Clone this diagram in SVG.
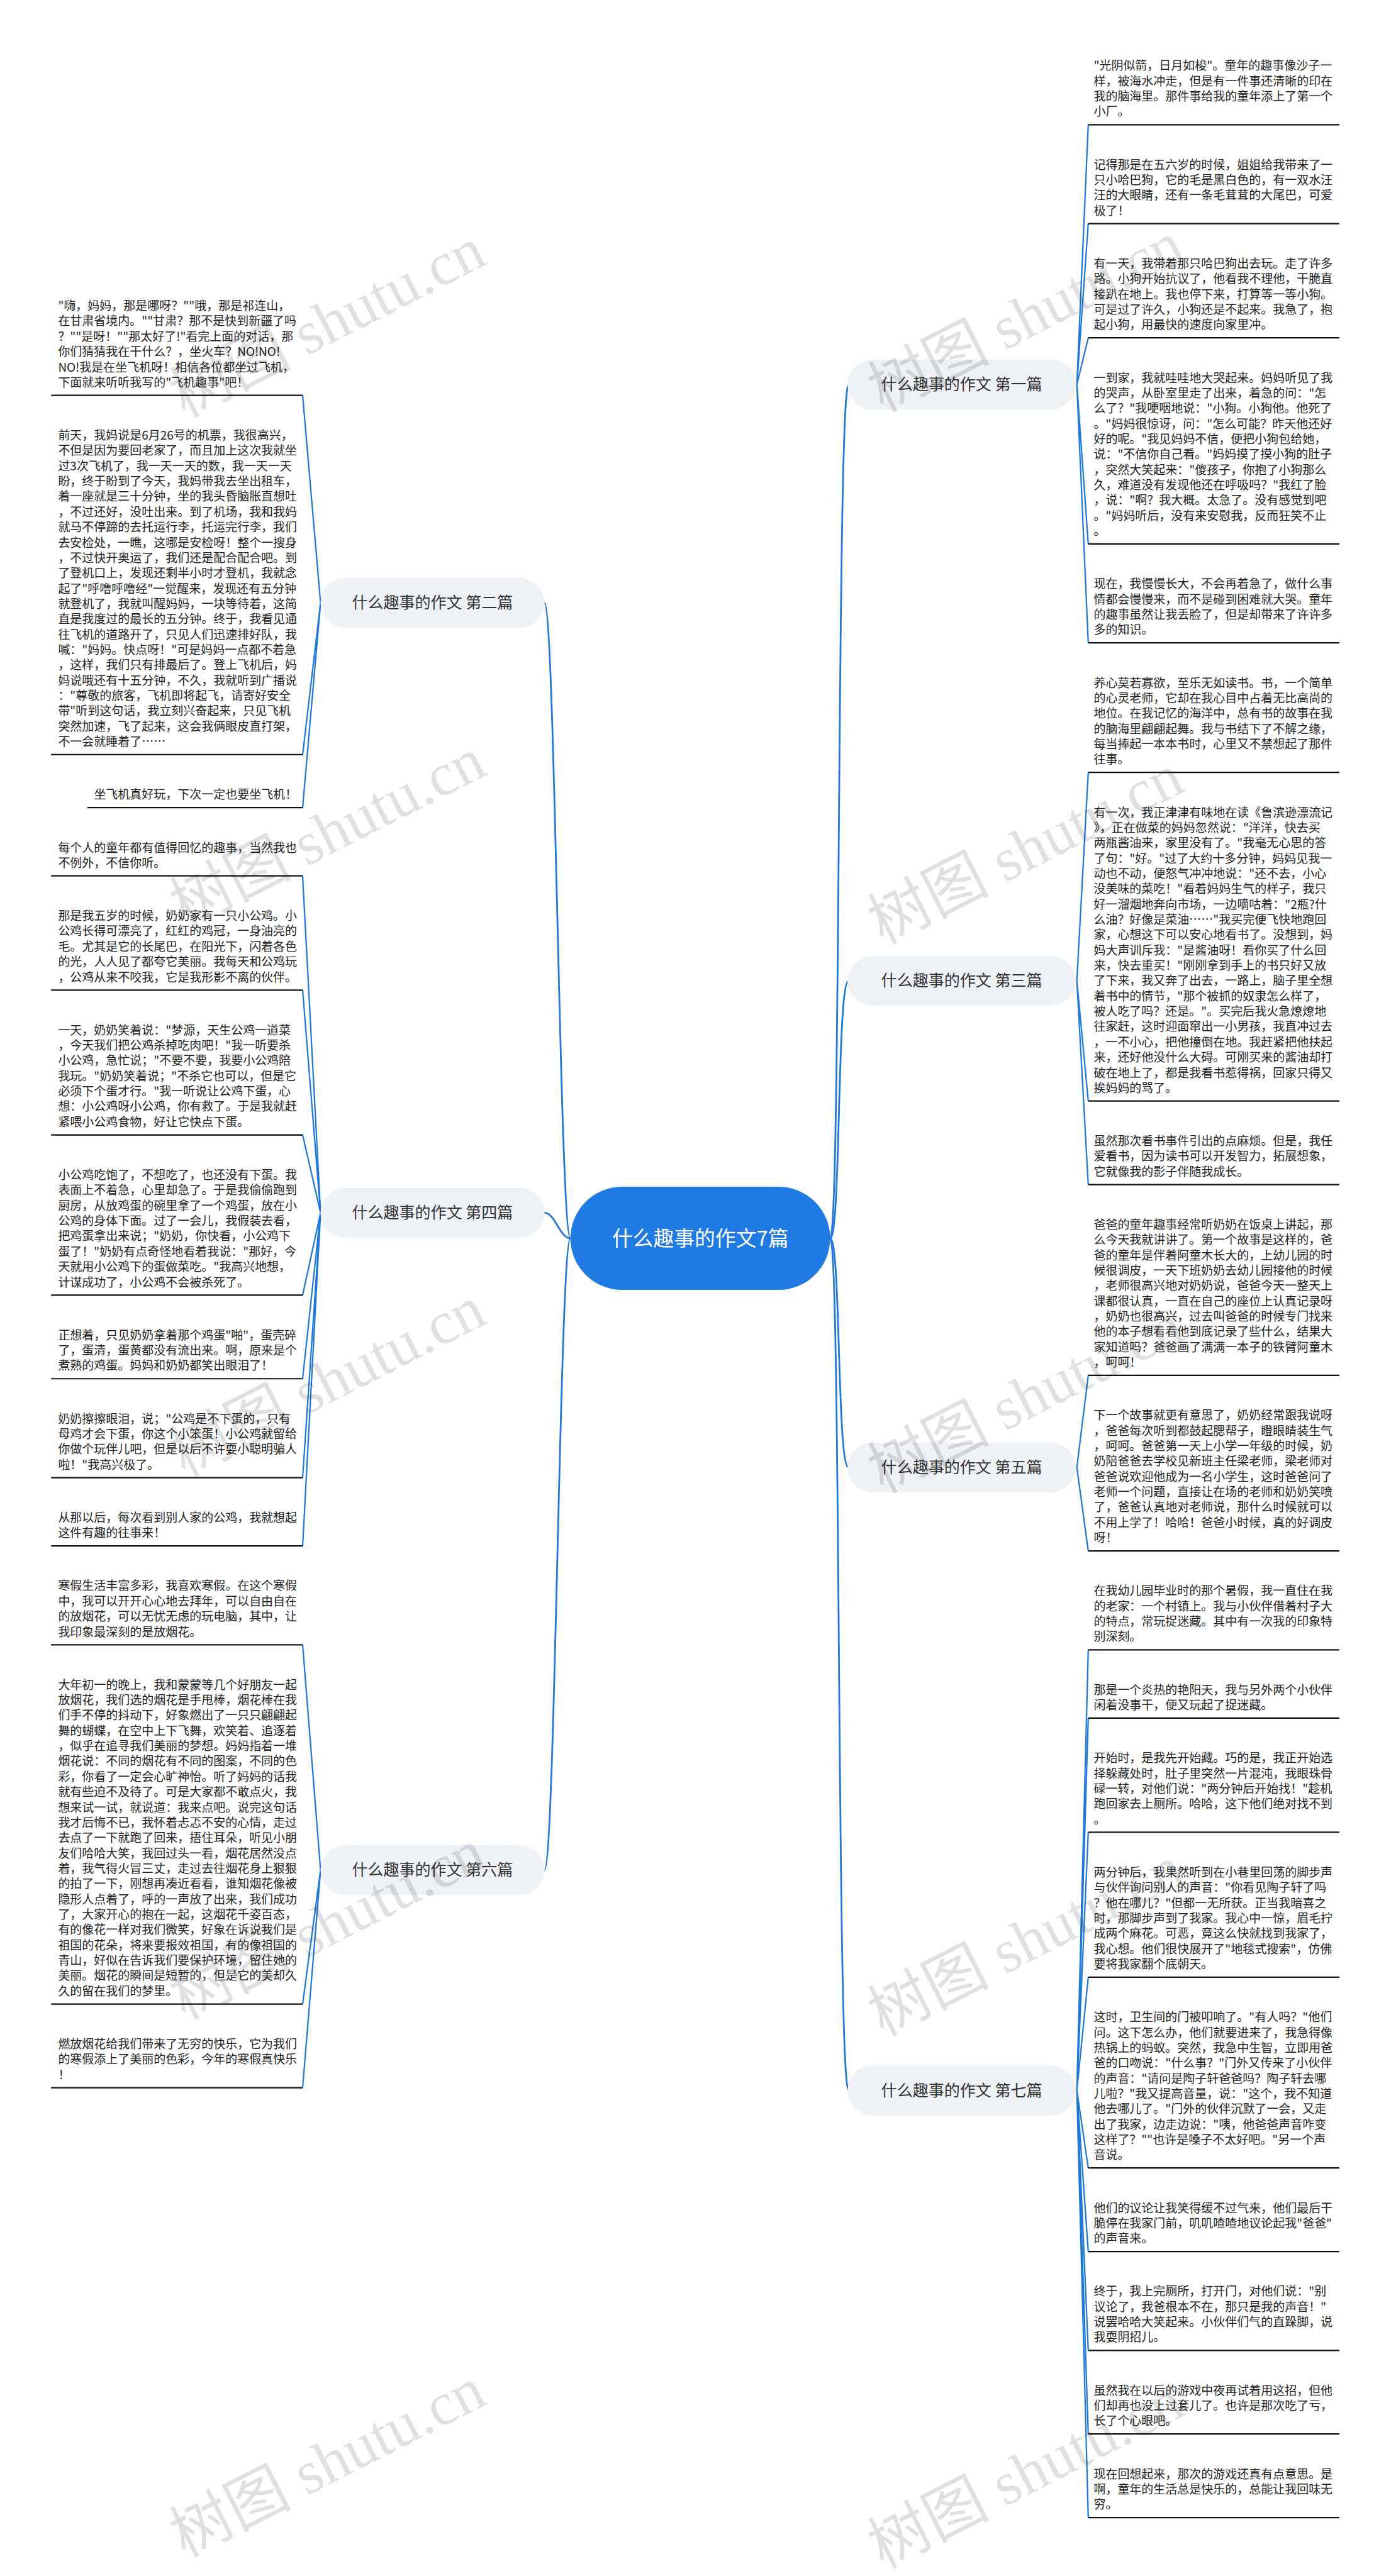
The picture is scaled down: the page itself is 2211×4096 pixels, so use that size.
<svg xmlns="http://www.w3.org/2000/svg" width="2211" height="4096" viewBox="0 0 2211 4096">
<style>
.t{font-family:"Noto Sans CJK SC","Noto Sans",sans-serif;font-size:22px;fill:#222}
.ul{stroke:#111;stroke-width:2.6}
.c{stroke:#1f78d8;stroke-width:2.6;fill:none}
.cm{stroke:#1f78d8;stroke-width:3.2;fill:none}
.bn{fill:#eef1f6}
.bt{font-family:"Noto Sans CJK SC","Noto Sans",sans-serif;font-size:29px;fill:#333;text-anchor:middle}
.wm{font-family:"Liberation Serif","Noto Sans CJK SC",serif;font-size:112px;fill:#000;fill-opacity:0.12}
</style>
<rect width="2211" height="4096" fill="#fff"/>
<g transform="scale(0.8636)">
<g id="connectors">
<path class="cm" d="M1528,2280 C1548,2280 1540,708 1562,708"/>
<path class="cm" d="M1528,2280 C1548,2280 1540,1806 1562,1806"/>
<path class="cm" d="M1528,2280 C1548,2280 1540,2702 1562,2702"/>
<path class="cm" d="M1528,2280 C1548,2280 1540,3849 1562,3849"/>
<path class="cm" d="M1050,2280 C1030,2280 1022,1110 1002,1110"/>
<path class="cm" d="M1050,2280 C1030,2280 1022,2233 1002,2233"/>
<path class="cm" d="M1050,2280 C1030,2280 1022,3443 1002,3443"/>
<path class="c" d="M1982,708 L2003,229.6 M1982,708 L2003,411.7 M1982,708 L2003,622 M1982,708 L2003,1001.5 M1982,708 L2003,1183.6"/>
<path class="c" d="M1982,1806 L2003,1422.1 M1982,1806 L2003,2027.2 M1982,1806 L2003,2181.1"/>
<path class="c" d="M1982,2702 L2003,2532.4 M1982,2702 L2003,2855.5"/>
<path class="c" d="M1982,3849 L2003,3037.6 M1982,3849 L2003,3163.3 M1982,3849 L2003,3373.6 M1982,3849 L2003,3640.3 M1982,3849 L2003,3991.6 M1982,3849 L2003,4145.5 M1982,3849 L2003,4327.6 M1982,3849 L2003,4481.5 M1982,3849 L2003,4635.4"/>
<path class="c" d="M590,1110 L557,728 M590,1110 L557,1389.5 M590,1110 L557,1487"/>
<path class="c" d="M590,2233 L557,1612.7 M590,2233 L557,1823 M590,2233 L557,2089.7 M590,2233 L557,2384.6 M590,2233 L557,2538.5 M590,2233 L557,2720.6 M590,2233 L557,2846.3"/>
<path class="c" d="M590,3443 L557,3028.4 M590,3443 L557,3689.9 M590,3443 L557,3843.8"/>
</g>
<g id="root">
<rect x="1050" y="2185" width="478" height="190" rx="95" fill="#1f7be3"/>
<text x="1289" y="2294" font-family="Noto Sans CJK SC, sans-serif" font-size="38" fill="#fff" text-anchor="middle">什么趣事的作文7篇</text>
</g>
<g id="b1"><rect class="bn" x="1560" y="662" width="420" height="92" rx="46"/><text class="bt" x="1770" y="718">什么趣事的作文 第一篇</text></g>
<g id="b3"><rect class="bn" x="1560" y="1760" width="420" height="92" rx="46"/><text class="bt" x="1770" y="1816">什么趣事的作文 第三篇</text></g>
<g id="b5"><rect class="bn" x="1560" y="2656" width="420" height="92" rx="46"/><text class="bt" x="1770" y="2712">什么趣事的作文 第五篇</text></g>
<g id="b7"><rect class="bn" x="1560" y="3803" width="420" height="92" rx="46"/><text class="bt" x="1770" y="3859">什么趣事的作文 第七篇</text></g>
<g id="b2"><rect class="bn" x="590" y="1064" width="412" height="92" rx="46"/><text class="bt" x="796" y="1120">什么趣事的作文 第二篇</text></g>
<g id="b4"><rect class="bn" x="590" y="2187" width="412" height="92" rx="46"/><text class="bt" x="796" y="2243">什么趣事的作文 第四篇</text></g>
<g id="b6"><rect class="bn" x="590" y="3397" width="412" height="92" rx="46"/><text class="bt" x="796" y="3453">什么趣事的作文 第六篇</text></g>

<g id="r1"><text class="t" x="2013" y="129"><tspan x="2013">"光阴似箭，日月如梭"。童年的趣事像沙子一</tspan><tspan x="2013" dy="28.2">样，被海水冲走，但是有一件事还清晰的印在</tspan><tspan x="2013" dy="28.2">我的脑海里。那件事给我的童年添上了第一个</tspan><tspan x="2013" dy="28.2">小厂。</tspan></text><line class="ul" x1="2003" y1="229.6" x2="2465" y2="229.6"/></g>
<g id="r2"><text class="t" x="2013" y="311.1"><tspan x="2013">记得那是在五六岁的时候，姐姐给我带来了一</tspan><tspan x="2013" dy="28.2">只小哈巴狗，它的毛是黑白色的，有一双水汪</tspan><tspan x="2013" dy="28.2">汪的大眼睛，还有一条毛茸茸的大尾巴，可爱</tspan><tspan x="2013" dy="28.2">极了！</tspan></text><line class="ul" x1="2003" y1="411.7" x2="2465" y2="411.7"/></g>
<g id="r3"><text class="t" x="2013" y="493.2"><tspan x="2013">有一天，我带着那只哈巴狗出去玩。走了许多</tspan><tspan x="2013" dy="28.2">路。小狗开始抗议了，他看我不理他，干脆直</tspan><tspan x="2013" dy="28.2">接趴在地上。我也停下来，打算等一等小狗。</tspan><tspan x="2013" dy="28.2">可是过了许久，小狗还是不起来。我急了，抱</tspan><tspan x="2013" dy="28.2">起小狗，用最快的速度向家里冲。</tspan></text><line class="ul" x1="2003" y1="622" x2="2465" y2="622"/></g>
<g id="r4"><text class="t" x="2013" y="703.5"><tspan x="2013">一到家，我就哇哇地大哭起来。妈妈听见了我</tspan><tspan x="2013" dy="28.2">的哭声，从卧室里走了出来，着急的问："怎</tspan><tspan x="2013" dy="28.2">么了？"我哽咽地说："小狗。小狗他。他死了</tspan><tspan x="2013" dy="28.2">。"妈妈很惊讶，问："怎么可能？昨天他还好</tspan><tspan x="2013" dy="28.2">好的呢。"我见妈妈不信，便把小狗包给她，</tspan><tspan x="2013" dy="28.2">说："不信你自己看。"妈妈摸了摸小狗的肚子</tspan><tspan x="2013" dy="28.2">，突然大笑起来："傻孩子，你抱了小狗那么</tspan><tspan x="2013" dy="28.2">久，难道没有发现他还在呼吸吗？"我红了脸</tspan><tspan x="2013" dy="28.2">，说："啊？我大概。太急了。没有感觉到吧</tspan><tspan x="2013" dy="28.2">。"妈妈听后，没有来安慰我，反而狂笑不止</tspan><tspan x="2013" dy="28.2">。</tspan></text><line class="ul" x1="2003" y1="1001.5" x2="2465" y2="1001.5"/></g>
<g id="r5"><text class="t" x="2013" y="1083"><tspan x="2013">现在，我慢慢长大，不会再着急了，做什么事</tspan><tspan x="2013" dy="28.2">情都会慢慢来，而不是碰到困难就大哭。童年</tspan><tspan x="2013" dy="28.2">的趣事虽然让我丢脸了，但是却带来了许许多</tspan><tspan x="2013" dy="28.2">多的知识。</tspan></text><line class="ul" x1="2003" y1="1183.6" x2="2465" y2="1183.6"/></g>
<g id="r6"><text class="t" x="2013" y="1265.1"><tspan x="2013">养心莫若寡欲，至乐无如读书。书，一个简单</tspan><tspan x="2013" dy="28.2">的心灵老师，它却在我心目中占着无比高尚的</tspan><tspan x="2013" dy="28.2">地位。在我记忆的海洋中，总有书的故事在我</tspan><tspan x="2013" dy="28.2">的脑海里翩翩起舞。我与书结下了不解之缘，</tspan><tspan x="2013" dy="28.2">每当捧起一本本书时，心里又不禁想起了那件</tspan><tspan x="2013" dy="28.2">往事。</tspan></text><line class="ul" x1="2003" y1="1422.1" x2="2465" y2="1422.1"/></g>
<g id="r7"><text class="t" x="2013" y="1503.6"><tspan x="2013">有一次，我正津津有味地在读《鲁滨逊漂流记</tspan><tspan x="2013" dy="28.2">》，正在做菜的妈妈忽然说："洋洋，快去买</tspan><tspan x="2013" dy="28.2">两瓶酱油来，家里没有了。"我毫无心思的答</tspan><tspan x="2013" dy="28.2">了句："好。"过了大约十多分钟，妈妈见我一</tspan><tspan x="2013" dy="28.2">动也不动，便怒气冲冲地说："还不去，小心</tspan><tspan x="2013" dy="28.2">没美味的菜吃！"看着妈妈生气的样子，我只</tspan><tspan x="2013" dy="28.2">好一溜烟地奔向市场，一边嘀咕着："2瓶?什</tspan><tspan x="2013" dy="28.2">么油？好像是菜油……"我买完便飞快地跑回</tspan><tspan x="2013" dy="28.2">家，心想这下可以安心地看书了。没想到，妈</tspan><tspan x="2013" dy="28.2">妈大声训斥我："是酱油呀！看你买了什么回</tspan><tspan x="2013" dy="28.2">来，快去重买！"刚刚拿到手上的书只好又放</tspan><tspan x="2013" dy="28.2">了下来，我又奔了出去，一路上，脑子里全想</tspan><tspan x="2013" dy="28.2">着书中的情节，"那个被抓的奴隶怎么样了，</tspan><tspan x="2013" dy="28.2">被人吃了吗？还是。"。买完后我火急燎燎地</tspan><tspan x="2013" dy="28.2">往家赶，这时迎面窜出一小男孩，我直冲过去</tspan><tspan x="2013" dy="28.2">，一不小心，把他撞倒在地。我赶紧把他扶起</tspan><tspan x="2013" dy="28.2">来，还好他没什么大碍。可刚买来的酱油却打</tspan><tspan x="2013" dy="28.2">破在地上了，都是我看书惹得祸，回家只得又</tspan><tspan x="2013" dy="28.2">挨妈妈的骂了。</tspan></text><line class="ul" x1="2003" y1="2027.2" x2="2465" y2="2027.2"/></g>
<g id="r8"><text class="t" x="2013" y="2108.7"><tspan x="2013">虽然那次看书事件引出的点麻烦。但是，我任</tspan><tspan x="2013" dy="28.2">爱看书，因为读书可以开发智力，拓展想象，</tspan><tspan x="2013" dy="28.2">它就像我的影子伴随我成长。</tspan></text><line class="ul" x1="2003" y1="2181.1" x2="2465" y2="2181.1"/></g>
<g id="r9"><text class="t" x="2013" y="2262.6"><tspan x="2013">爸爸的童年趣事经常听奶奶在饭桌上讲起，那</tspan><tspan x="2013" dy="28.2">么今天我就讲讲了。第一个故事是这样的，爸</tspan><tspan x="2013" dy="28.2">爸的童年是伴着阿童木长大的，上幼儿园的时</tspan><tspan x="2013" dy="28.2">候很调皮，一天下班奶奶去幼儿园接他的时候</tspan><tspan x="2013" dy="28.2">，老师很高兴地对奶奶说，爸爸今天一整天上</tspan><tspan x="2013" dy="28.2">课都很认真，一直在自己的座位上认真记录呀</tspan><tspan x="2013" dy="28.2">，奶奶也很高兴，过去叫爸爸的时候专门找来</tspan><tspan x="2013" dy="28.2">他的本子想看看他到底记录了些什么，结果大</tspan><tspan x="2013" dy="28.2">家知道吗？爸爸画了满满一本子的铁臂阿童木</tspan><tspan x="2013" dy="28.2">，呵呵！</tspan></text><line class="ul" x1="2003" y1="2532.4" x2="2465" y2="2532.4"/></g>
<g id="r10"><text class="t" x="2013" y="2613.9"><tspan x="2013">下一个故事就更有意思了，奶奶经常跟我说呀</tspan><tspan x="2013" dy="28.2">，爸爸每次听到都鼓起腮帮子，瞪眼睛装生气</tspan><tspan x="2013" dy="28.2">，呵呵。爸爸第一天上小学一年级的时候，奶</tspan><tspan x="2013" dy="28.2">奶陪爸爸去学校见新班主任梁老师，梁老师对</tspan><tspan x="2013" dy="28.2">爸爸说欢迎他成为一名小学生，这时爸爸问了</tspan><tspan x="2013" dy="28.2">老师一个问题，直接让在场的老师和奶奶笑喷</tspan><tspan x="2013" dy="28.2">了，爸爸认真地对老师说，那什么时候就可以</tspan><tspan x="2013" dy="28.2">不用上学了！哈哈！爸爸小时候，真的好调皮</tspan><tspan x="2013" dy="28.2">呀！</tspan></text><line class="ul" x1="2003" y1="2855.5" x2="2465" y2="2855.5"/></g>
<g id="r11"><text class="t" x="2013" y="2937"><tspan x="2013">在我幼儿园毕业时的那个暑假，我一直住在我</tspan><tspan x="2013" dy="28.2">的老家：一个村镇上。我与小伙伴借着村子大</tspan><tspan x="2013" dy="28.2">的特点，常玩捉迷藏。其中有一次我的印象特</tspan><tspan x="2013" dy="28.2">别深刻。</tspan></text><line class="ul" x1="2003" y1="3037.6" x2="2465" y2="3037.6"/></g>
<g id="r12"><text class="t" x="2013" y="3119.1"><tspan x="2013">那是一个炎热的艳阳天，我与另外两个小伙伴</tspan><tspan x="2013" dy="28.2">闲着没事干，便又玩起了捉迷藏。</tspan></text><line class="ul" x1="2003" y1="3163.3" x2="2465" y2="3163.3"/></g>
<g id="r13"><text class="t" x="2013" y="3244.8"><tspan x="2013">开始时，是我先开始藏。巧的是，我正开始选</tspan><tspan x="2013" dy="28.2">择躲藏处时，肚子里突然一片混沌，我眼珠骨</tspan><tspan x="2013" dy="28.2">碌一转，对他们说："两分钟后开始找！"趁机</tspan><tspan x="2013" dy="28.2">跑回家去上厕所。哈哈，这下他们绝对找不到</tspan><tspan x="2013" dy="28.2">。</tspan></text><line class="ul" x1="2003" y1="3373.6" x2="2465" y2="3373.6"/></g>
<g id="r14"><text class="t" x="2013" y="3455.1"><tspan x="2013">两分钟后，我果然听到在小巷里回荡的脚步声</tspan><tspan x="2013" dy="28.2">与伙伴询问别人的声音："你看见陶子轩了吗</tspan><tspan x="2013" dy="28.2">？他在哪儿？"但都一无所获。正当我暗喜之</tspan><tspan x="2013" dy="28.2">时，那脚步声到了我家。我心中一惊，眉毛拧</tspan><tspan x="2013" dy="28.2">成两个麻花。可恶，竟这么快就找到我家了，</tspan><tspan x="2013" dy="28.2">我心想。他们很快展开了"地毯式搜索"，仿佛</tspan><tspan x="2013" dy="28.2">要将我家翻个底朝天。</tspan></text><line class="ul" x1="2003" y1="3640.3" x2="2465" y2="3640.3"/></g>
<g id="r15"><text class="t" x="2013" y="3721.8"><tspan x="2013">这时，卫生间的门被叩响了。"有人吗？"他们</tspan><tspan x="2013" dy="28.2">问。这下怎么办，他们就要进来了，我急得像</tspan><tspan x="2013" dy="28.2">热锅上的蚂蚁。突然，我急中生智，立即用爸</tspan><tspan x="2013" dy="28.2">爸的口吻说："什么事？"门外又传来了小伙伴</tspan><tspan x="2013" dy="28.2">的声音："请问是陶子轩爸爸吗？陶子轩去哪</tspan><tspan x="2013" dy="28.2">儿啦？"我又提高音量，说："这个，我不知道</tspan><tspan x="2013" dy="28.2">他去哪儿了。"门外的伙伴沉默了一会，又走</tspan><tspan x="2013" dy="28.2">出了我家，边走边说："咦，他爸爸声音咋变</tspan><tspan x="2013" dy="28.2">这样了？""也许是嗓子不太好吧。"另一个声</tspan><tspan x="2013" dy="28.2">音说。</tspan></text><line class="ul" x1="2003" y1="3991.6" x2="2465" y2="3991.6"/></g>
<g id="r16"><text class="t" x="2013" y="4073.1"><tspan x="2013">他们的议论让我笑得缓不过气来，他们最后干</tspan><tspan x="2013" dy="28.2">脆停在我家门前，叽叽喳喳地议论起我"爸爸"</tspan><tspan x="2013" dy="28.2">的声音来。</tspan></text><line class="ul" x1="2003" y1="4145.5" x2="2465" y2="4145.5"/></g>
<g id="r17"><text class="t" x="2013" y="4227"><tspan x="2013">终于，我上完厕所，打开门，对他们说："别</tspan><tspan x="2013" dy="28.2">议论了，我爸根本不在，那只是我的声音！"</tspan><tspan x="2013" dy="28.2">说罢哈哈大笑起来。小伙伴们气的直跺脚，说</tspan><tspan x="2013" dy="28.2">我耍阴招儿。</tspan></text><line class="ul" x1="2003" y1="4327.6" x2="2465" y2="4327.6"/></g>
<g id="r18"><text class="t" x="2013" y="4409.1"><tspan x="2013">虽然我在以后的游戏中夜再试着用这招，但他</tspan><tspan x="2013" dy="28.2">们却再也没上过套儿了。也许是那次吃了亏，</tspan><tspan x="2013" dy="28.2">长了个心眼吧。</tspan></text><line class="ul" x1="2003" y1="4481.5" x2="2465" y2="4481.5"/></g>
<g id="r19"><text class="t" x="2013" y="4563"><tspan x="2013">现在回想起来，那次的游戏还真有点意思。是</tspan><tspan x="2013" dy="28.2">啊，童年的生活总是快乐的，总能让我回味无</tspan><tspan x="2013" dy="28.2">穷。</tspan></text><line class="ul" x1="2003" y1="4635.4" x2="2465" y2="4635.4"/></g>

<g id="l1"><text class="t" x="107" y="571"><tspan x="107">"嗨，妈妈，那是哪呀？""哦，那是祁连山，</tspan><tspan x="107" dy="28.2">在甘肃省境内。""甘肃？那不是快到新疆了吗</tspan><tspan x="107" dy="28.2">？""是呀！""那太好了!"看完上面的对话，那</tspan><tspan x="107" dy="28.2">你们猜猜我在干什么？，坐火车？NO!NO!</tspan><tspan x="107" dy="28.2">NO!我是在坐飞机呀！相信各位都坐过飞机，</tspan><tspan x="107" dy="28.2">下面就来听听我写的"飞机趣事"吧！</tspan></text><line class="ul" x1="94" y1="728" x2="557" y2="728"/></g>
<g id="l2"><text class="t" x="107" y="809.5"><tspan x="107">前天，我妈说是6月26号的机票，我很高兴，</tspan><tspan x="107" dy="28.2">不但是因为要回老家了，而且加上这次我就坐</tspan><tspan x="107" dy="28.2">过3次飞机了，我一天一天的数，我一天一天</tspan><tspan x="107" dy="28.2">盼，终于盼到了今天，我妈带我去坐出租车，</tspan><tspan x="107" dy="28.2">着一座就是三十分钟，坐的我头昏脑胀直想吐</tspan><tspan x="107" dy="28.2">，不过还好，没吐出来。到了机场，我和我妈</tspan><tspan x="107" dy="28.2">就马不停蹄的去托运行李，托运完行李，我们</tspan><tspan x="107" dy="28.2">去安检处，一瞧，这哪是安检呀！整个一搜身</tspan><tspan x="107" dy="28.2">，不过快开奥运了，我们还是配合配合吧。到</tspan><tspan x="107" dy="28.2">了登机口上，发现还剩半小时才登机，我就念</tspan><tspan x="107" dy="28.2">起了"呼噜呼噜经"一觉醒来，发现还有五分钟</tspan><tspan x="107" dy="28.2">就登机了，我就叫醒妈妈，一块等待着，这简</tspan><tspan x="107" dy="28.2">直是我度过的最长的五分钟。终于，我看见通</tspan><tspan x="107" dy="28.2">往飞机的道路开了，只见人们迅速排好队，我</tspan><tspan x="107" dy="28.2">喊："妈妈。快点呀！"可是妈妈一点都不着急</tspan><tspan x="107" dy="28.2">，这样，我们只有排最后了。登上飞机后，妈</tspan><tspan x="107" dy="28.2">妈说哦还有十五分钟，不久，我就听到广播说</tspan><tspan x="107" dy="28.2">："尊敬的旅客，飞机即将起飞，请寄好安全</tspan><tspan x="107" dy="28.2">带"听到这句话，我立刻兴奋起来，只见飞机</tspan><tspan x="107" dy="28.2">突然加速，飞了起来，这会我俩眼皮直打架，</tspan><tspan x="107" dy="28.2">不一会就睡着了……</tspan></text><line class="ul" x1="94" y1="1389.5" x2="557" y2="1389.5"/></g>
<g id="l3"><text class="t" x="173" y="1471">坐飞机真好玩，下次一定也要坐飞机！</text><line class="ul" x1="161" y1="1487" x2="557" y2="1487"/></g>
<g id="l4"><text class="t" x="107" y="1568.5"><tspan x="107">每个人的童年都有值得回忆的趣事，当然我也</tspan><tspan x="107" dy="28.2">不例外，不信你听。</tspan></text><line class="ul" x1="94" y1="1612.7" x2="557" y2="1612.7"/></g>
<g id="l5"><text class="t" x="107" y="1694.2"><tspan x="107">那是我五岁的时候，奶奶家有一只小公鸡。小</tspan><tspan x="107" dy="28.2">公鸡长得可漂亮了，红红的鸡冠，一身油亮的</tspan><tspan x="107" dy="28.2">毛。尤其是它的长尾巴，在阳光下，闪着各色</tspan><tspan x="107" dy="28.2">的光，人人见了都夸它美丽。我每天和公鸡玩</tspan><tspan x="107" dy="28.2">，公鸡从来不咬我，它是我形影不离的伙伴。</tspan></text><line class="ul" x1="94" y1="1823" x2="557" y2="1823"/></g>
<g id="l6"><text class="t" x="107" y="1904.5"><tspan x="107">一天，奶奶笑着说："梦源，天生公鸡一道菜</tspan><tspan x="107" dy="28.2">，今天我们把公鸡杀掉吃肉吧！"我一听要杀</tspan><tspan x="107" dy="28.2">小公鸡，急忙说；"不要不要，我要小公鸡陪</tspan><tspan x="107" dy="28.2">我玩。"奶奶笑着说；"不杀它也可以，但是它</tspan><tspan x="107" dy="28.2">必须下个蛋才行。"我一听说让公鸡下蛋，心</tspan><tspan x="107" dy="28.2">想：小公鸡呀小公鸡，你有救了。于是我就赶</tspan><tspan x="107" dy="28.2">紧喂小公鸡食物，好让它快点下蛋。</tspan></text><line class="ul" x1="94" y1="2089.7" x2="557" y2="2089.7"/></g>
<g id="l7"><text class="t" x="107" y="2171.2"><tspan x="107">小公鸡吃饱了，不想吃了，也还没有下蛋。我</tspan><tspan x="107" dy="28.2">表面上不着急，心里却急了。于是我偷偷跑到</tspan><tspan x="107" dy="28.2">厨房，从放鸡蛋的碗里拿了一个鸡蛋，放在小</tspan><tspan x="107" dy="28.2">公鸡的身体下面。过了一会儿，我假装去看，</tspan><tspan x="107" dy="28.2">把鸡蛋拿出来说；"奶奶，你快看，小公鸡下</tspan><tspan x="107" dy="28.2">蛋了！"奶奶有点奇怪地看着我说："那好，今</tspan><tspan x="107" dy="28.2">天就用小公鸡下的蛋做菜吃。"我高兴地想，</tspan><tspan x="107" dy="28.2">计谋成功了，小公鸡不会被杀死了。</tspan></text><line class="ul" x1="94" y1="2384.6" x2="557" y2="2384.6"/></g>
<g id="l8"><text class="t" x="107" y="2466.1"><tspan x="107">正想着，只见奶奶拿着那个鸡蛋"啪"，蛋壳碎</tspan><tspan x="107" dy="28.2">了，蛋清，蛋黄都没有流出来。啊，原来是个</tspan><tspan x="107" dy="28.2">煮熟的鸡蛋。妈妈和奶奶都笑出眼泪了！</tspan></text><line class="ul" x1="94" y1="2538.5" x2="557" y2="2538.5"/></g>
<g id="l9"><text class="t" x="107" y="2620"><tspan x="107">奶奶擦擦眼泪，说；"公鸡是不下蛋的，只有</tspan><tspan x="107" dy="28.2">母鸡才会下蛋，你这个小笨蛋！小公鸡就留给</tspan><tspan x="107" dy="28.2">你做个玩伴儿吧，但是以后不许耍小聪明骗人</tspan><tspan x="107" dy="28.2">啦！"我高兴极了。</tspan></text><line class="ul" x1="94" y1="2720.6" x2="557" y2="2720.6"/></g>
<g id="l10"><text class="t" x="107" y="2802.1"><tspan x="107">从那以后，每次看到别人家的公鸡，我就想起</tspan><tspan x="107" dy="28.2">这件有趣的往事来！</tspan></text><line class="ul" x1="94" y1="2846.3" x2="557" y2="2846.3"/></g>
<g id="l11"><text class="t" x="107" y="2927.8"><tspan x="107">寒假生活丰富多彩，我喜欢寒假。在这个寒假</tspan><tspan x="107" dy="28.2">中，我可以开开心心地去拜年，可以自由自在</tspan><tspan x="107" dy="28.2">的放烟花，可以无忧无虑的玩电脑，其中，让</tspan><tspan x="107" dy="28.2">我印象最深刻的是放烟花。</tspan></text><line class="ul" x1="94" y1="3028.4" x2="557" y2="3028.4"/></g>
<g id="l12"><text class="t" x="107" y="3109.9"><tspan x="107">大年初一的晚上，我和蒙蒙等几个好朋友一起</tspan><tspan x="107" dy="28.2">放烟花，我们选的烟花是手甩棒，烟花棒在我</tspan><tspan x="107" dy="28.2">们手不停的抖动下，好象燃出了一只只翩翩起</tspan><tspan x="107" dy="28.2">舞的蝴蝶，在空中上下飞舞，欢笑着、追逐着</tspan><tspan x="107" dy="28.2">，似乎在追寻我们美丽的梦想。妈妈指着一堆</tspan><tspan x="107" dy="28.2">烟花说：不同的烟花有不同的图案，不同的色</tspan><tspan x="107" dy="28.2">彩，你看了一定会心旷神怡。听了妈妈的话我</tspan><tspan x="107" dy="28.2">就有些迫不及待了。可是大家都不敢点火，我</tspan><tspan x="107" dy="28.2">想来试一试，就说道：我来点吧。说完这句话</tspan><tspan x="107" dy="28.2">我才后悔不已，我怀着忐忑不安的心情，走过</tspan><tspan x="107" dy="28.2">去点了一下就跑了回来，捂住耳朵，听见小朋</tspan><tspan x="107" dy="28.2">友们哈哈大笑，我回过头一看，烟花居然没点</tspan><tspan x="107" dy="28.2">着，我气得火冒三丈，走过去往烟花身上狠狠</tspan><tspan x="107" dy="28.2">的拍了一下，刚想再凑近看看，谁知烟花像被</tspan><tspan x="107" dy="28.2">隐形人点着了，呼的一声放了出来，我们成功</tspan><tspan x="107" dy="28.2">了，大家开心的抱在一起，这烟花千姿百态，</tspan><tspan x="107" dy="28.2">有的像花一样对我们微笑，好象在诉说我们是</tspan><tspan x="107" dy="28.2">祖国的花朵，将来要报效祖国，有的像祖国的</tspan><tspan x="107" dy="28.2">青山，好似在告诉我们要保护环境，留住她的</tspan><tspan x="107" dy="28.2">美丽。烟花的瞬间是短暂的，但是它的美却久</tspan><tspan x="107" dy="28.2">久的留在我们的梦里。</tspan></text><line class="ul" x1="94" y1="3689.9" x2="557" y2="3689.9"/></g>
<g id="l13"><text class="t" x="107" y="3771.4"><tspan x="107">燃放烟花给我们带来了无穷的快乐，它为我们</tspan><tspan x="107" dy="28.2">的寒假添上了美丽的色彩，今年的寒假真快乐</tspan><tspan x="107" dy="28.2">！</tspan></text><line class="ul" x1="94" y1="3843.8" x2="557" y2="3843.8"/></g>

<g id="watermark">
<text class="wm" transform="translate(340,770) rotate(-27)">树图 shutu.cn</text>
<text class="wm" transform="translate(340,1710) rotate(-27)">树图 shutu.cn</text>
<text class="wm" transform="translate(340,2720) rotate(-27)">树图 shutu.cn</text>
<text class="wm" transform="translate(340,3720) rotate(-27)">树图 shutu.cn</text>
<text class="wm" transform="translate(340,4710) rotate(-27)">树图 shutu.cn</text>
<text class="wm" transform="translate(1625,760) rotate(-27)">树图 shutu.cn</text>
<text class="wm" transform="translate(1625,1740) rotate(-27)">树图 shutu.cn</text>
<text class="wm" transform="translate(1625,2750) rotate(-27)">树图 shutu.cn</text>
<text class="wm" transform="translate(1625,3750) rotate(-27)">树图 shutu.cn</text>
<text class="wm" transform="translate(1625,4730) rotate(-27)">树图 shutu.cn</text>
</g>
</g>
</svg>
